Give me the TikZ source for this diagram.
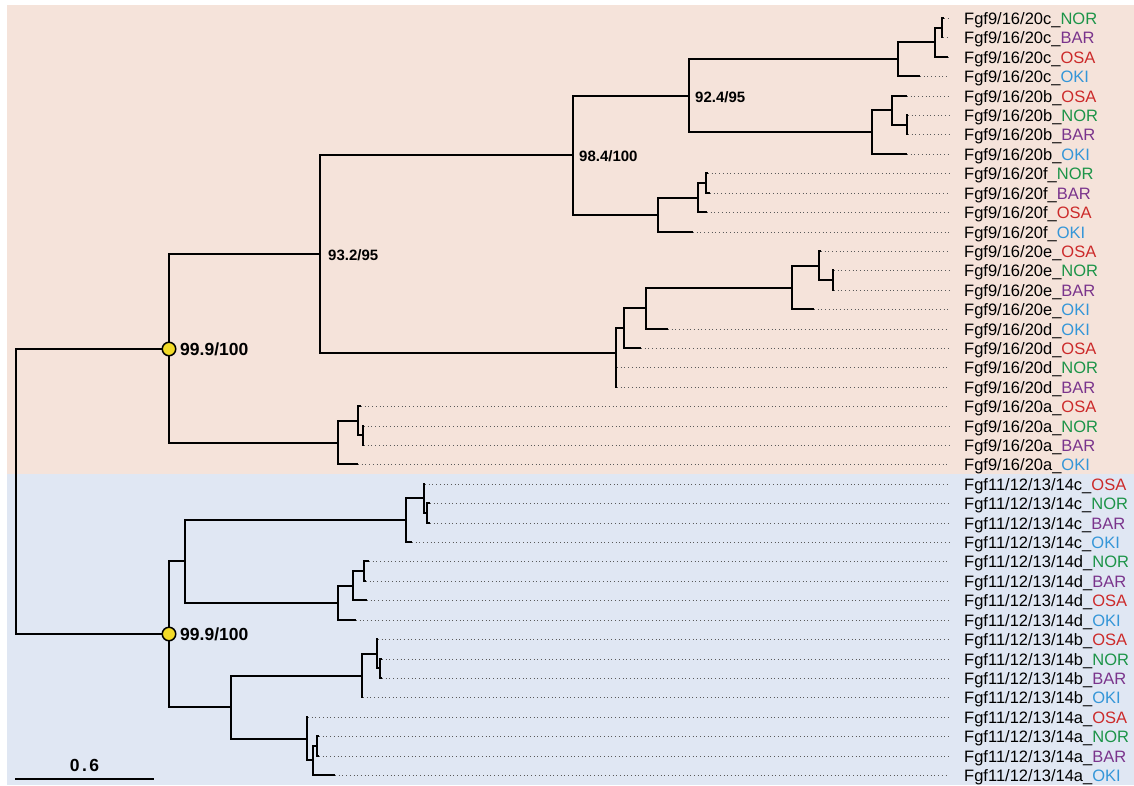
\documentclass[tikz,border=0pt]{standalone}
\usepackage{fontspec}
\setmainfont{Liberation Sans}
\usetikzlibrary{calc}

\definecolor{bgnine}{RGB}{245,227,218}
\definecolor{bgeleven}{RGB}{224,231,243}
\definecolor{nor}{RGB}{28,148,72}
\definecolor{bar}{RGB}{122,52,140}
\definecolor{osa}{RGB}{204,42,42}
\definecolor{oki}{RGB}{52,150,216}
\definecolor{dotgray}{RGB}{90,90,90}
\definecolor{nodeyellow}{RGB}{242,218,40}

% leaf: name, tip x, row, gene prefix, population, population colour
\newcommand\mkleaf[6]{%
  \coordinate (#1) at (#2,{round(18+19.41*(#3-1))});
  \node[leaflab] (#1-lab) at (964,{round(18+19.41*(#3-1))+6.5}) {#4\_\textcolor{#6}{#5}};
  \draw[dots] (#1) -- ($(#1 -| #1-lab.west)+(-15,0)$);
}

\begin{document}
\begin{tikzpicture}[x=1pt,y=-1pt,
  branch/.style={line width=2.4pt, line join=miter},
  dots/.style={dotgray, line width=1pt, dash pattern=on 1pt off 2.7pt},
  leaflab/.style={anchor=base west, inner sep=0pt, font=\fontsize{16.5}{18}\selectfont},
  support/.style={anchor=west, inner sep=0pt, font=\bfseries\fontsize{15}{17}\selectfont},
  bigsupport/.style={anchor=west, inner sep=0pt, font=\bfseries\fontsize{17.5}{19}\selectfont},
  ydot/.style={circle, draw=black, line width=1.5pt, fill=nodeyellow, minimum size=13.5pt, inner sep=0pt}]

\useasboundingbox (0,0) rectangle (1134,785);
\fill[white] (0,0) rectangle (1134,785);
\fill[bgnine] (7,5) rectangle (1134,474);
\fill[bgeleven] (7,474) rectangle (1134,785);

% Fgf9/16/20 leaves
\mkleaf{l1}{944}{1}{Fgf9/16/20c}{NOR}{nor}
\mkleaf{l2}{943}{2}{Fgf9/16/20c}{BAR}{bar}
\mkleaf{l3}{948}{3}{Fgf9/16/20c}{OSA}{osa}
\mkleaf{l4}{920}{4}{Fgf9/16/20c}{OKI}{oki}
\mkleaf{l5}{907}{5}{Fgf9/16/20b}{OSA}{osa}
\mkleaf{l6}{908}{6}{Fgf9/16/20b}{NOR}{nor}
\mkleaf{l7}{908}{7}{Fgf9/16/20b}{BAR}{bar}
\mkleaf{l8}{907}{8}{Fgf9/16/20b}{OKI}{oki}
\mkleaf{l9}{708}{9}{Fgf9/16/20f}{NOR}{nor}
\mkleaf{l10}{710}{10}{Fgf9/16/20f}{BAR}{bar}
\mkleaf{l11}{707}{11}{Fgf9/16/20f}{OSA}{osa}
\mkleaf{l12}{693}{12}{Fgf9/16/20f}{OKI}{oki}
\mkleaf{l13}{821}{13}{Fgf9/16/20e}{OSA}{osa}
\mkleaf{l14}{834}{14}{Fgf9/16/20e}{NOR}{nor}
\mkleaf{l15}{834}{15}{Fgf9/16/20e}{BAR}{bar}
\mkleaf{l16}{814}{16}{Fgf9/16/20e}{OKI}{oki}
\mkleaf{l17}{668}{17}{Fgf9/16/20d}{OKI}{oki}
\mkleaf{l18}{641}{18}{Fgf9/16/20d}{OSA}{osa}
\mkleaf{l19}{617}{19}{Fgf9/16/20d}{NOR}{nor}
\mkleaf{l20}{617}{20}{Fgf9/16/20d}{BAR}{bar}
\mkleaf{l21}{361}{21}{Fgf9/16/20a}{OSA}{osa}
\mkleaf{l22}{364}{22}{Fgf9/16/20a}{NOR}{nor}
\mkleaf{l23}{364}{23}{Fgf9/16/20a}{BAR}{bar}
\mkleaf{l24}{358}{24}{Fgf9/16/20a}{OKI}{oki}

% Fgf11/12/13/14 leaves
\mkleaf{l25}{425}{25}{Fgf11/12/13/14c}{OSA}{osa}
\mkleaf{l26}{430}{26}{Fgf11/12/13/14c}{NOR}{nor}
\mkleaf{l27}{430}{27}{Fgf11/12/13/14c}{BAR}{bar}
\mkleaf{l28}{412}{28}{Fgf11/12/13/14c}{OKI}{oki}
\mkleaf{l29}{369}{29}{Fgf11/12/13/14d}{NOR}{nor}
\mkleaf{l30}{366}{30}{Fgf11/12/13/14d}{BAR}{bar}
\mkleaf{l31}{367}{31}{Fgf11/12/13/14d}{OSA}{osa}
\mkleaf{l32}{356}{32}{Fgf11/12/13/14d}{OKI}{oki}
\mkleaf{l33}{378}{33}{Fgf11/12/13/14b}{OSA}{osa}
\mkleaf{l34}{382}{34}{Fgf11/12/13/14b}{NOR}{nor}
\mkleaf{l35}{382}{35}{Fgf11/12/13/14b}{BAR}{bar}
\mkleaf{l36}{363}{36}{Fgf11/12/13/14b}{OKI}{oki}
\mkleaf{l37}{308}{37}{Fgf11/12/13/14a}{OSA}{osa}
\mkleaf{l38}{319}{38}{Fgf11/12/13/14a}{NOR}{nor}
\mkleaf{l39}{319}{39}{Fgf11/12/13/14a}{BAR}{bar}
\mkleaf{l40}{335}{40}{Fgf11/12/13/14a}{OKI}{oki}

% internal nodes, Fgf9/16/20
\coordinate (nH) at (942,28);
\coordinate (nG) at (935,42);
\coordinate (nF) at (898,59);
\coordinate (nK) at (907,125);
\coordinate (nJ) at (892,110);
\coordinate (nI) at (872,132);
\coordinate (nE) at (689,96);
\coordinate (nN) at (706,183);
\coordinate (nM) at (698,198);
\coordinate (nL) at (658,215);
\coordinate (nC) at (573,155);
\coordinate (nS) at (833,280);
\coordinate (nR) at (819,266);
\coordinate (nQ) at (792,288);
\coordinate (nP) at (646,308);
\coordinate (nO) at (624,328);
\coordinate (nD) at (616,353);
\coordinate (nB) at (320,254);
\coordinate (nV) at (363,435);
\coordinate (nU) at (358,421);
\coordinate (nT) at (338,443);
\coordinate (nA) at (169,349);

% internal nodes, Fgf11/12/13/14
\coordinate (nZb) at (427,513);
\coordinate (nZ) at (424,498);
\coordinate (nY) at (406,520);
\coordinate (nAC) at (364,571);
\coordinate (nAB) at (353,586);
\coordinate (nAA) at (338,603);
\coordinate (nX) at (185,561);
\coordinate (nAG) at (380,668);
\coordinate (nAF) at (377,654);
\coordinate (nAE) at (362,676);
\coordinate (nAJ) at (317,746);
\coordinate (nAI) at (313,760);
\coordinate (nAH) at (307,739);
\coordinate (nAD) at (231,707);
\coordinate (nW) at (169,634);
\coordinate (root) at (16,491);

% branches
\draw[branch]
  (nH) |- (l1)  (nH) |- (l2)
  (nG) |- (nH)  (nG) |- (l3)
  (nF) |- (nG)  (nF) |- (l4)
  (nK) |- (l6)  (nK) |- (l7)
  (nJ) |- (l5)  (nJ) |- (nK)
  (nI) |- (nJ)  (nI) |- (l8)
  (nE) |- (nF)  (nE) |- (nI)
  (nN) |- (l9)  (nN) |- (l10)
  (nM) |- (nN)  (nM) |- (l11)
  (nL) |- (nM)  (nL) |- (l12)
  (nC) |- (nE)  (nC) |- (nL)
  (nS) |- (l14) (nS) |- (l15)
  (nR) |- (l13) (nR) |- (nS)
  (nQ) |- (nR)  (nQ) |- (l16)
  (nP) |- (nQ)  (nP) |- (l17)
  (nO) |- (nP)  (nO) |- (l18)
  (nD) |- (nO)  (nD) |- (l19)  (nD) |- (l20)
  (nB) |- (nC)  (nB) |- (nD)
  (nV) |- (l22) (nV) |- (l23)
  (nU) |- (l21) (nU) |- (nV)
  (nT) |- (nU)  (nT) |- (l24)
  (nA) |- (nB)  (nA) |- (nT);
\draw[branch]
  (nZb) |- (l26) (nZb) |- (l27)
  (nZ) |- (l25)  (nZ) |- (nZb)
  (nY) |- (nZ)   (nY) |- (l28)
  (nAC) |- (l29) (nAC) |- (l30)
  (nAB) |- (nAC) (nAB) |- (l31)
  (nAA) |- (nAB) (nAA) |- (l32)
  (nX) |- (nY)   (nX) |- (nAA)
  (nAG) |- (l34) (nAG) |- (l35)
  (nAF) |- (l33) (nAF) |- (nAG)
  (nAE) |- (nAF) (nAE) |- (l36)
  (nAJ) |- (l38) (nAJ) |- (l39)
  (nAI) |- (nAJ) (nAI) |- (l40)
  (nAH) |- (l37) (nAH) |- (nAI)
  (nAD) |- (nAE) (nAD) |- (nAH)
  (nW) |- (nX)   (nW) |- (nAD)
  (root) |- (nA) (root) |- (nW);

% supported nodes
\node[ydot] (dotA) at (nA) {};
\node[ydot] (dotW) at (nW) {};
\node[bigsupport] (supA) at (180,349) {99.9/100};
\node[bigsupport] (supW) at (180,634.5) {99.9/100};
\node[support] (supB) at (328,255) {93.2/95};
\node[support] (supC) at (579,156) {98.4/100};
\node[support] (supE) at (695,97.5) {92.4/95};

% scale bar
\coordinate (sb1) at (15,779);
\coordinate (sb2) at (154,779);
\draw[line width=2.2pt] (sb1) -- (sb2);
\node[font=\bfseries\fontsize{17.5}{19}\selectfont, inner sep=0pt] (sblab) at (84.5,765) {0\kern2.5pt.\kern2.5pt6};
\end{tikzpicture}
\end{document}
